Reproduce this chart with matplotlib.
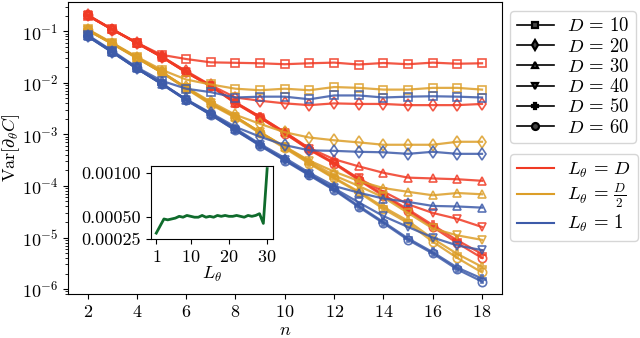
import numpy as np
import matplotlib
matplotlib.use("Agg")
import matplotlib.pyplot as plt
from matplotlib.lines import Line2D

plt.rcParams['mathtext.fontset'] = 'cm'
plt.rcParams['font.family'] = ['cmr10', 'DejaVu Serif']
plt.rcParams['axes.formatter.use_mathtext'] = True
plt.rcParams['font.size'] = 13

n = np.arange(2, 19)
depths = [10, 20, 30, 40, 50, 60]
markers = ['s', 'd', '^', 'v', 'P', 'o']

# L_theta = D
red = {
    10: [0.2, 0.11, 0.06, 0.035, 0.029, 0.025, 0.0245, 0.024, 0.023, 0.024, 0.0247, 0.0227, 0.0243, 0.023, 0.0247, 0.0235, 0.024],
    20: [0.205, 0.108, 0.06, 0.032, 0.017, 0.009, 0.0052, 0.0045, 0.0040, 0.0037, 0.0040, 0.0039, 0.0039, 0.0037, 0.0037, 0.0037, 0.0039],
    30: [0.205, 0.11, 0.059, 0.032, 0.016, 0.0087, 0.0041, 0.0022, 0.0011, 0.00054, 0.00033, 0.00024, 0.00018, 0.000145, 0.00014, 0.000135, 0.000126],
    40: [0.205, 0.108, 0.059, 0.032, 0.016, 0.0087, 0.0041, 0.0021, 0.00105, 0.00051, 0.00028, 0.00014, 7.8e-5, 4.4e-5, 3.0e-5, 2.3e-5, 1.6e-5],
    50: [0.21, 0.11, 0.06, 0.033, 0.0165, 0.0088, 0.0042, 0.0022, 0.0011, 0.00052, 0.00028, 0.000135, 6.8e-5, 3.5e-5, 1.75e-5, 8.8e-6, 4.8e-6],
    60: [0.204, 0.108, 0.059, 0.032, 0.016, 0.0086, 0.0040, 0.0021, 0.00104, 0.00050, 0.00027, 0.00013, 6.4e-5, 3.3e-5, 1.6e-5, 7.8e-6, 4.0e-6],
}
# L_theta = D/2
orange = {
    10: [0.11, 0.06, 0.032, 0.018, 0.0116, 0.0093, 0.0077, 0.0072, 0.0077, 0.0072, 0.0083, 0.008, 0.0074, 0.0074, 0.008, 0.008, 0.0074],
    20: [0.106, 0.058, 0.031, 0.016, 0.0082, 0.0043, 0.0024, 0.0016, 0.0011, 0.00087, 0.00077, 0.0007, 0.00063, 0.00063, 0.00063, 0.00072, 0.00072],
    30: [0.106, 0.058, 0.031, 0.016, 0.008, 0.004, 0.0022, 0.0011, 0.00058, 0.00031, 0.00019, 0.000125, 9.1e-5, 7.7e-5, 6.6e-5, 7.3e-5, 6.9e-5],
    40: [0.105, 0.058, 0.031, 0.016, 0.0079, 0.0040, 0.0022, 0.0011, 0.00057, 0.0003, 0.00016, 0.0001, 6e-5, 3.0e-5, 1.5e-5, 1.1e-5, 9e-6],
    50: [0.108, 0.058, 0.031, 0.0165, 0.008, 0.004, 0.0022, 0.0011, 0.00056, 0.00028, 0.000145, 7.8e-5, 3.9e-5, 2.1e-5, 9.5e-6, 4.8e-6, 2.7e-6],
    60: [0.105, 0.057, 0.030, 0.016, 0.0077, 0.0038, 0.0021, 0.00105, 0.00054, 0.00027, 0.00014, 7.5e-5, 3.6e-5, 1.9e-5, 8.3e-6, 4.0e-6, 2.1e-6],
}
# L_theta = 1
blue = {
    10: [0.085, 0.042, 0.02, 0.011, 0.0077, 0.0066, 0.0052, 0.0054, 0.0054, 0.0048, 0.0057, 0.0057, 0.0052, 0.0054, 0.0055, 0.0054, 0.0052],
    20: [0.082, 0.04, 0.019, 0.0098, 0.0048, 0.0026, 0.0014, 0.0009, 0.00062, 0.00049, 0.00048, 0.00046, 0.00045, 0.00042, 0.00046, 0.00042, 0.00042],
    30: [0.082, 0.04, 0.019, 0.0097, 0.0047, 0.0025, 0.0013, 0.00065, 0.00035, 0.00018, 0.0001, 7.4e-5, 5.7e-5, 4.9e-5, 4.1e-5, 4.0e-5, 3.8e-5],
    40: [0.08, 0.04, 0.019, 0.0096, 0.0047, 0.0024, 0.0012, 0.00062, 0.00032, 0.00017, 9e-5, 4.8e-5, 2.6e-5, 1.6e-5, 1.0e-5, 7e-6, 5.7e-6],
    50: [0.082, 0.04, 0.0195, 0.0097, 0.0047, 0.0025, 0.00125, 0.00062, 0.00032, 0.000165, 8.6e-5, 4.1e-5, 2.0e-5, 9.6e-6, 5.2e-6, 2.6e-6, 1.6e-6],
    60: [0.08, 0.039, 0.019, 0.0095, 0.0046, 0.0024, 0.0012, 0.0006, 0.00031, 0.00016, 8.3e-5, 3.9e-5, 1.9e-5, 9e-6, 4.9e-6, 2.4e-6, 1.4e-6],
}

# inset: variance vs L_theta
L = np.arange(1, 31)
inset_var = [0.00032, 0.00040, 0.00048, 0.00047, 0.00048, 0.00049, 0.00051, 0.00050, 0.00052, 0.00051,
             0.00050, 0.00050, 0.00052, 0.00050, 0.00051, 0.00050, 0.00052, 0.00051, 0.00052, 0.00051,
             0.00051, 0.00052, 0.00051, 0.00050, 0.00052, 0.00051, 0.00052, 0.00054, 0.00043, 0.00105]

c_red = '#f03a24'
c_orange = '#dc9e28'
c_blue = '#3d5ba9'

fig = plt.figure(figsize=(6.4, 3.38), dpi=100)
ax = fig.add_axes([0.106, 0.130, 0.678, 0.864])

for data, col in [(red, c_red), (orange, c_orange), (blue, c_blue)]:
    for D, m in zip(depths, markers):
        ax.plot(n, data[D], color=col, marker=m, ms=6, mfc='none', mew=1.2,
                lw=1.6, alpha=0.85)

ax.set_yscale('log')
ax.set_ylim(8e-7, 0.37)
ax.set_xticks(range(2, 19, 2))
ax.set_xlabel('$n$', labelpad=2)
ax.set_ylabel(r'$\mathrm{Var}[\partial_\theta C]$', labelpad=0)

h1 = [Line2D([], [], color='k', marker=m, ms=5, mfc='#444444', mew=1.6, lw=1.2) for m in markers]
fig.legend(h1, [rf'$D \,=\, {d}$' for d in depths], loc='upper left',
           bbox_to_anchor=(0.797, 0.968), borderaxespad=0, fontsize=13.5,
           labelspacing=0.12, handletextpad=0.7, handlelength=2.0,
           borderpad=0.35)
h2 = [Line2D([], [], color=c, lw=1.5) for c in [c_red, c_orange, c_blue]]
fig.legend(h2, [r'$L_\theta \,=\, D$', r'$L_\theta \,=\, \frac{D}{2}$', r'$L_\theta \,=\, 1$'],
           loc='upper left', bbox_to_anchor=(0.797, 0.545), borderaxespad=0,
           fontsize=13.5, labelspacing=0.12, handletextpad=0.7, handlelength=2.0,
           borderpad=0.35)

ins = fig.add_axes([0.2355, 0.292, 0.1906, 0.217])
ins.plot(L, inset_var, color='#0f6b2c', lw=2)
ins.set_ylim(0.00025, 0.00108)
ins.set_yticks([0.00025, 0.0005, 0.001])
ins.set_yticklabels(['0.00025', '0.00050', '0.00100'])
ins.set_xticks([1, 10, 20, 30])
ins.set_xlabel(r'$L_\theta$', labelpad=0)

fig.savefig('out.png', dpi=100)
